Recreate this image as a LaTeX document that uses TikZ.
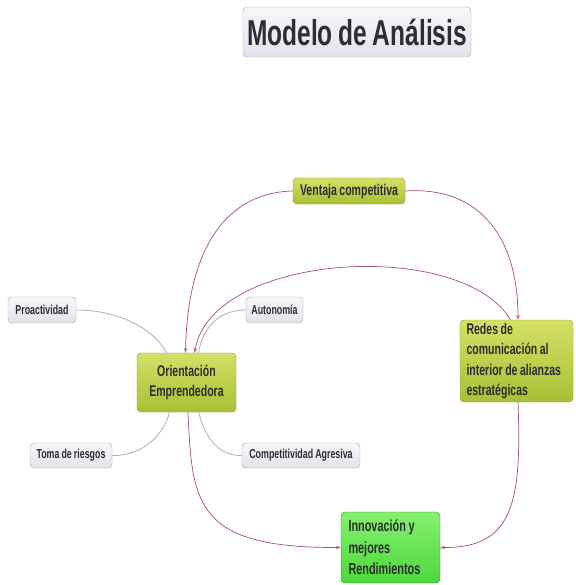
\documentclass[tikz,border=0pt]{standalone}
\usepackage{fontspec}
\newfontfamily\nar[FakeStretch=0.68,WordSpace=0.85]{Liberation Sans}
\usetikzlibrary{arrows.meta}
\definecolor{ygTop}{HTML}{D4E066}
\definecolor{ygBot}{HTML}{A8C034}
\definecolor{ygLine}{HTML}{8A9A3A}
\definecolor{gTop}{HTML}{F7F7FB}
\definecolor{gBot}{HTML}{E2E2EA}
\definecolor{gLine}{HTML}{A8A8B8}
\definecolor{grTop}{HTML}{86F070}
\definecolor{grBot}{HTML}{4CD83C}
\definecolor{grLine}{HTML}{2E8A2A}
\definecolor{txt}{HTML}{2E2E2E}
\definecolor{relLine}{HTML}{A85060}
\definecolor{relTip}{HTML}{C86878}
\definecolor{grayLine}{HTML}{B0B0B0}
\tikzset{
  box/.style={rounded corners=4pt, inner sep=2pt, text=txt, font=\nar\bfseries},
  graybox/.style={box, draw=gLine, top color=gTop, bottom color=gBot, font=\nar\bfseries\fontsize{13}{15}\selectfont},
  ygbox/.style={box, draw=ygLine, top color=ygTop, bottom color=ygBot},
  greenbox/.style={box, draw=grLine, top color=grTop, bottom color=grBot},
  bigtext/.style={font=\nar\bfseries\fontsize{15.5}{20.5}\selectfont},
  rel/.style={draw=relLine, line width=0.7pt, -{Stealth[length=5pt,width=4pt,color=relTip]}},
  assoc/.style={draw=grayLine, line width=0.8pt}
}
\begin{document}
\begin{tikzpicture}[x=1pt,y=-1pt]
\useasboundingbox[fill=white] (0,0) rectangle (575,585);
% title
\node[box, draw=gLine, top color=gTop, bottom color=gBot, minimum width=228pt, minimum height=50pt,
  font=\nar\bfseries\fontsize{36}{40}\selectfont] (title) at (357,32) {Modelo de Análisis};
% nodes
\node[ygbox, bigtext, minimum width=112pt, minimum height=26pt] (vent) at (349,191) {Ventaja competitiva};
\node[graybox, minimum width=68pt, minimum height=26pt] (proa) at (42,310) {Proactividad};
\node[graybox, minimum width=57pt, minimum height=26pt] (auto) at (274.5,310) {Autonomía};
\node[ygbox, bigtext, minimum width=99pt, minimum height=59pt, align=center] (orient) at (186.5,382.5) {Orientación\\Emprendedora};
\node[ygbox, bigtext, minimum width=113pt, minimum height=82pt, text width=100pt, align=flush left, inner xsep=6.5pt, inner ysep=2pt] (redes) at (516.5,361) {Redes de\\comunicación al\\interior de alianzas\\estratégicas};
\node[graybox, minimum width=82pt, minimum height=25pt] (toma) at (71,455.5) {Toma de riesgos};
\node[graybox, minimum width=118pt, minimum height=25pt] (comp) at (301,455.5) {Competitividad Agresiva};
\node[greenbox, font=\nar\bfseries\fontsize{16}{21.5}\selectfont, minimum width=99pt, minimum height=71pt, text width=84pt, align=flush left, inner xsep=7.5pt, inner ysep=2pt] (innov) at (390.5,547.5) {Innovación y\\mejores\\Rendimientos};
% gray associations
\draw[assoc] (proa.east) .. controls (120,310) and (155,330) .. ([xshift=-20pt]orient.north);
\draw[assoc] (auto.west) .. controls (215,310) and (202,332) .. ([xshift=12pt]orient.north);
\draw[assoc] (toma.east) .. controls (145,456) and (165,432) .. ([xshift=-17pt]orient.south);
\draw[assoc] (comp.west) .. controls (215,456) and (204,432) .. ([xshift=12pt]orient.south);
% red relations
\draw[rel] (vent.west) .. controls (238,192) and (188,232) .. ([xshift=-1pt]orient.north);
\draw[rel] (vent.east) .. controls (482,186) and (518,240) .. ([xshift=1.5pt]redes.north);
\draw[rel] ([xshift=-6pt]redes.north) .. controls (462,238) and (212,252) .. ([xshift=8pt]orient.north);
\draw[rel] ([xshift=1.5pt]orient.south) .. controls (192,505) and (196,548) .. (innov.west);
\draw[rel] ([xshift=1.5pt]redes.south) .. controls (522,505) and (512,548) .. (innov.east);
\end{tikzpicture}
\end{document}
